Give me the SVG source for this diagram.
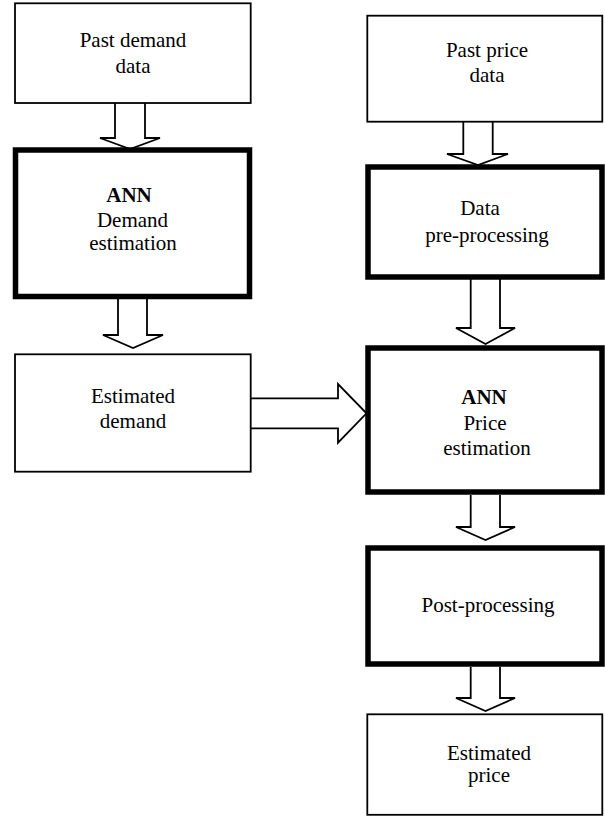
<svg xmlns="http://www.w3.org/2000/svg" width="605" height="816" viewBox="0 0 605 816">
<style>
.thin{fill:#fff;stroke:#000;stroke-width:1.8}
.thick{fill:#fff;stroke:#000;stroke-width:5.5}
.arr{fill:#fff;stroke:#000;stroke-width:1.8;stroke-linejoin:miter}
text{font-family:"Liberation Serif","Times New Roman",serif;font-size:21px;fill:#000;text-anchor:middle}
.b{font-weight:bold}
</style>
<rect width="605" height="816" fill="#fff"/>
<g id="connectors">
<path class="arr" d="M115,103 V138 H100 L130,149 L160,138 H145 V103"/>
<path class="arr" d="M118,299 V335 H103 L133,348 L163,335 H147 V299"/>
<path class="arr" d="M251,398.3 H338 V384 L366.5,413.3 L338,442.7 V428.3 H251"/>
<path class="arr" d="M463.3,122 V154 H447 L478,165 L508,154 H492.7 V122"/>
<path class="arr" d="M470.7,279 V328 H456 L485.5,344 L515,328 H500 V279"/>
<path class="arr" d="M470.7,495 V527 H456 L485.5,540 L515,527 H500 V495"/>
<path class="arr" d="M470.7,667 V698 H456 L485.5,711 L515,698 H500 V667"/>
</g>
<g id="past-demand">
<rect class="thin" x="15" y="3.3" width="235.7" height="99.7"/>
<text x="133" y="46.7">Past demand</text>
<text x="133" y="73.3">data</text>
</g>
<g id="ann-demand">
<rect class="thick" x="15.5" y="150" width="234" height="146.5"/>
<text class="b" x="129" y="201.7">ANN</text>
<text x="132.5" y="227">Demand</text>
<text x="133" y="250">estimation</text>
</g>
<g id="estimated-demand">
<rect class="thin" x="15" y="354.3" width="235.7" height="117.4"/>
<text x="133" y="403">Estimated</text>
<text x="133" y="428">demand</text>
</g>
<g id="past-price">
<rect class="thin" x="367.3" y="15.7" width="235" height="106"/>
<text x="487" y="56.7">Past price</text>
<text x="487" y="81.7">data</text>
</g>
<g id="data-preprocessing">
<rect class="thick" x="368" y="167" width="234" height="110"/>
<text x="480" y="215">Data</text>
<text x="487" y="241.5">pre-processing</text>
</g>
<g id="ann-price">
<rect class="thick" x="368" y="348" width="234" height="144"/>
<text class="b" x="484" y="404">ANN</text>
<text x="485" y="430">Price</text>
<text x="487" y="455">estimation</text>
</g>
<g id="post-processing">
<rect class="thick" x="368" y="548" width="234" height="116"/>
<text x="488" y="611.7">Post-processing</text>
</g>
<g id="estimated-price">
<rect class="thin" x="367.3" y="714.3" width="235" height="100.5"/>
<text x="489" y="760">Estimated</text>
<text x="489" y="781.7">price</text>
</g>
</svg>
